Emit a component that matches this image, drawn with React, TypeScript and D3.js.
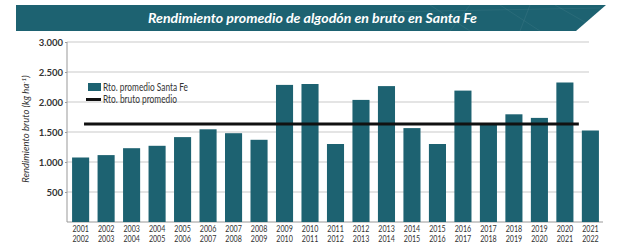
import React, { useEffect, useRef } from "react";
import * as d3 from "d3";

// campaigns (two-line labels)
const startYears = ["2001", "2002", "2003", "2004", "2005", "2006", "2007", "2008", "2009", "2010", "2011",
  "2012", "2013", "2014", "2015", "2016", "2017", "2018", "2019", "2020", "2021"];
const endYears = ["2002", "2003", "2004", "2005", "2006", "2007", "2008", "2009", "2010", "2011", "2012",
  "2013", "2014", "2015", "2016", "2017", "2018", "2019", "2020", "2021", "2022"];
// Rto. promedio Santa Fe (kg/ha)
const yieldSantaFe = [1075, 1115, 1230, 1270, 1415, 1545, 1480, 1370, 2285, 2300, 1300,
  2035, 2265, 1565, 1300, 2190, 1625, 1795, 1735, 2325, 1525];
// Rto. bruto promedio
const avgYield = 1635;
const yTicks = [500, 1000, 1500, 2000, 2500, 3000];

const W = 626;
const H = 249;
const TEAL = "#1d6271";

function App() {
  const svgRef = useRef<SVGSVGElement>(null);

  useEffect(() => {
    const svg = d3.select(svgRef.current);
    svg.selectAll("*").remove();
    const font = "Lato, 'Open Sans', sans-serif";

    const x = d3.scaleBand<string>()
      .domain(startYears)
      .range([68, 603])
      .paddingInner(0.33)
      .paddingOuter(0.16);
    const y = d3.scaleLinear().domain([0, 3000]).range([222, 42]);

    // banner
    const banner = svg.append("g");
    banner.append("path")
      .attr("d", "M16,5 L606,5 L576,31 L16,31 Z")
      .attr("fill", TEAL);
    // faint decoration lines
    const deco = [[430, 5, 470, 31], [470, 5, 450, 31], [500, 5, 540, 31], [530, 5, 520, 31], [555, 5, 590, 25], [380, 12, 600, 8]];
    banner.selectAll(".deco")
      .data(deco)
      .join("line")
      .attr("x1", d => d[0]).attr("y1", d => d[1])
      .attr("x2", d => d[2]).attr("y2", d => d[3])
      .attr("stroke", "#ffffff")
      .attr("stroke-opacity", 0.08)
      .attr("stroke-width", 0.8);
    banner.append("text")
      .attr("x", 148)
      .attr("y", 22.5)
      .attr("fill", "#ffffff")
      .attr("font-family", font)
      .attr("font-style", "italic")
      .attr("font-weight", "bold")
      .attr("font-size", 14)
      .attr("textLength", 329)
      .attr("lengthAdjust", "spacingAndGlyphs")
      .text("Rendimiento promedio de algodón en bruto en Santa Fe");

    // gridlines
    svg.selectAll(".grid")
      .data(yTicks)
      .join("line")
      .attr("x1", 67).attr("x2", 589)
      .attr("y1", d => y(d)).attr("y2", d => y(d))
      .attr("stroke", "#c9c9c9")
      .attr("stroke-width", 1);

    // y axis
    const yAxis = d3.axisLeft(y)
      .tickValues(yTicks)
      .tickSize(2)
      .tickFormat(d => d3.format(",")(d as number).replace(/,/g, "."));
    const gy = svg.append("g").attr("transform", "translate(67,0)").call(yAxis);
    gy.select(".domain").attr("stroke", "#999").attr("d", `M0,${y(3000)}V${y(0)}`);
    gy.selectAll(".tick line").attr("stroke", "#999");
    gy.selectAll(".tick text")
      .attr("x", -4)
      .attr("fill", "#333")
      .attr("font-family", font)
      .attr("font-weight", "bold")
      .attr("font-size", 9.5);

    // baseline
    svg.append("line")
      .attr("x1", 67).attr("x2", 603)
      .attr("y1", y(0)).attr("y2", y(0))
      .attr("stroke", "#999");

    // y title
    svg.append("text")
      .attr("transform", `translate(29,129) rotate(-90)`)
      .attr("text-anchor", "middle")
      .attr("fill", "#333")
      .attr("font-family", font)
      .attr("font-style", "italic")
      .attr("font-size", 9.5)
      .text("Rendimiento bruto (kg ha")
      .append("tspan")
      .attr("dy", -3)
      .attr("font-size", 6.5)
      .text("-1")
      .clone()
      .attr("dy", 3)
      .attr("font-size", 9.5)
      .text(")");

    // bars
    svg.selectAll(".bar")
      .data(yieldSantaFe)
      .join("rect")
      .attr("x", (d, i) => x(startYears[i])!)
      .attr("y", d => y(d))
      .attr("width", x.bandwidth())
      .attr("height", d => y(0) - y(d))
      .attr("fill", TEAL);

    // average line
    const first = x(startYears[0])! + x.bandwidth() * 0.7;
    const last = x(startYears[startYears.length - 1])! - 3;
    svg.append("line")
      .attr("x1", first).attr("x2", last)
      .attr("y1", y(avgYield)).attr("y2", y(avgYield))
      .attr("stroke", "#111")
      .attr("stroke-width", 3);

    // x labels
    const xl = svg.append("g")
      .attr("font-family", font)
      .attr("font-size", 9.5)
      .attr("fill", "#333");
    xl.selectAll(".l1")
      .data(startYears)
      .join("text")
      .attr("x", d => x(d)! + x.bandwidth() / 2 - 8.2)
      .attr("y", 232)
      .attr("textLength", 16.5)
      .attr("lengthAdjust", "spacingAndGlyphs")
      .text(d => d);
    xl.selectAll(".l2")
      .data(endYears)
      .join("text")
      .attr("x", (d, i) => x(startYears[i])! + x.bandwidth() / 2 - 8.2)
      .attr("y", 242)
      .attr("textLength", 16.5)
      .attr("lengthAdjust", "spacingAndGlyphs")
      .text(d => d);

    // legend
    const lg = svg.append("g").attr("font-family", font).attr("font-size", 10.5).attr("fill", "#333");
    lg.append("rect").attr("x", 88).attr("y", 83).attr("width", 13).attr("height", 8).attr("fill", TEAL);
    lg.append("text").attr("x", 103).attr("y", 90.5)
      .attr("textLength", 85).attr("lengthAdjust", "spacingAndGlyphs")
      .text("Rto. promedio Santa Fe");
    lg.append("line").attr("x1", 86).attr("x2", 101).attr("y1", 99.5).attr("y2", 99.5)
      .attr("stroke", "#111").attr("stroke-width", 3);
    lg.append("text").attr("x", 103).attr("y", 102.5)
      .attr("textLength", 74).attr("lengthAdjust", "spacingAndGlyphs")
      .text("Rto. bruto promedio");
  }, []);

  return (
    <svg ref={svgRef} width={W} height={H}
      style={{ position: "absolute", left: 0, top: 0, background: "#fff" }} />
  );
}

export default App;
